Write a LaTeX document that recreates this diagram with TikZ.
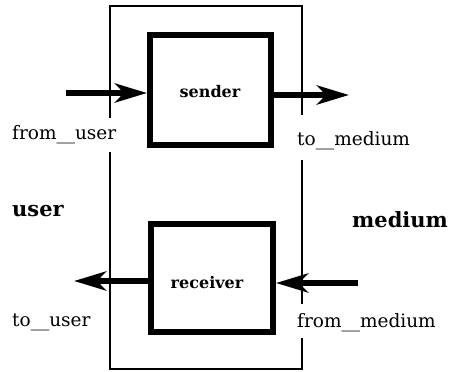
\documentclass[tikz,border=0pt]{standalone}
\usepackage{fontspec}
\setmainfont{DejaVu Serif}
\usetikzlibrary{arrows.meta}
\begin{document}
\begin{tikzpicture}[x=1pt,y=-1pt,
  module/.style={draw=black,line width=6pt,fill=white,inner sep=0pt},
  modname/.style={font=\fontsize{16}{18}\selectfont\bfseries,inner sep=0pt},
  frame/.style={line width=1.2pt,black},
  flow/.style={line width=6pt,-{Stealth[length=32pt,width=19pt,inset=9pt]}},
  port/.style={font=\fontsize{18.5}{21}\selectfont,inner sep=0pt,anchor=west},
  side/.style={font=\fontsize{21}{24}\selectfont\bfseries,inner sep=0pt,anchor=west}]
  \useasboundingbox (0,0) rectangle (456,372);

  % the component boundary, broken where the port names sit
  \draw[frame] (110,118) -- (110,6) -- (302,6) -- (302,115);
  \draw[frame] (110,152) -- (110,369) -- (302,369) -- (302,338);
  \draw[frame] (302,160) -- (302,304);

  % the two inner processes
  \node[module,minimum width=121pt,minimum height=110pt] (sender) at (210.5,90) {};
  \node[modname] (sendertext) at (210,92) {sender};
  \node[module,minimum width=122pt,minimum height=108pt] (receiver) at (212,278) {};
  \node[modname] (receivertext) at (207,283) {receiver};

  % free ends of the flows
  \coordinate (inuser) at (66,93);
  \coordinate (outmedium) at (349,95);
  \coordinate (outuser) at (74,281);
  \coordinate (inmedium) at (358,283);

  \draw[flow] (inuser) -- (inuser -| sender.west);
  \draw[flow] (outmedium -| sender.east) -- (outmedium);
  \draw[flow] (outuser -| receiver.west) -- (outuser);
  \draw[flow] (inmedium) -- (inmedium -| receiver.east);

  % port and environment names
  \node[port] (fromuser) at (12,135) {from\_\_user};
  \node[port] (tomedium) at (297,141) {to\_\_medium};
  \node[port] (touser) at (12,322) {to\_\_user};
  \node[port] (frommedium) at (297,323) {from\_\_medium};
  \node[side] (user) at (12,211) {user};
  \node[side] (medium) at (352,220) {medium};
\end{tikzpicture}
\end{document}
